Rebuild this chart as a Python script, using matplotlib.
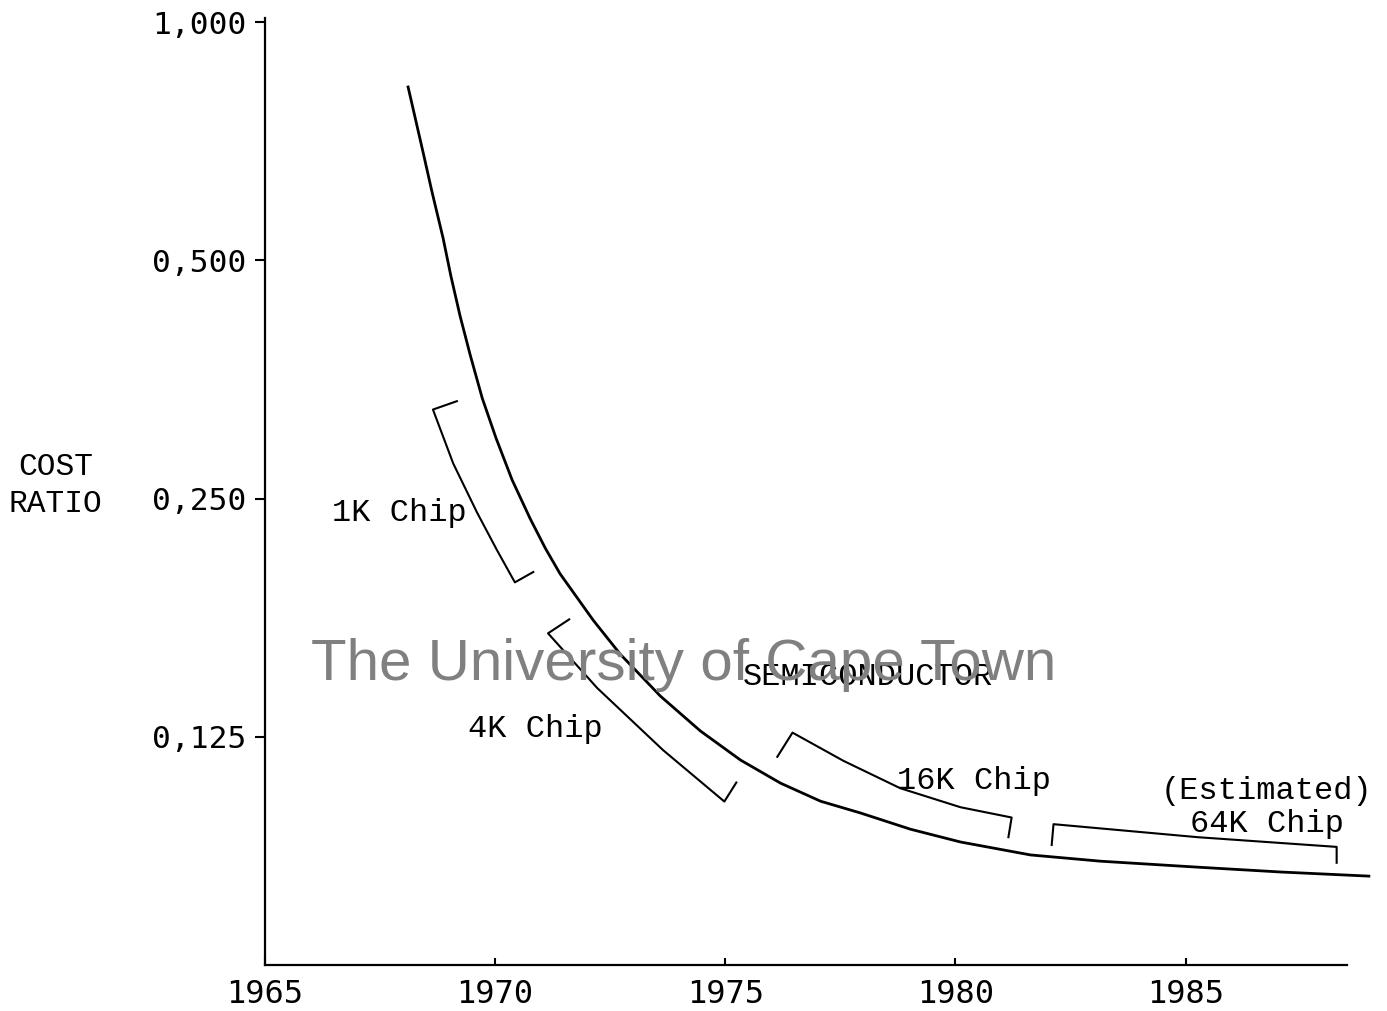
import matplotlib
matplotlib.use("Agg")
import matplotlib.pyplot as plt
from matplotlib.ticker import FixedLocator, FixedFormatter, NullLocator

# semiconductor cost ratio curve
years = [1968.11, 1968.44, 1968.63, 1968.87, 1969.04, 1969.24, 1969.46, 1969.72,
         1970.02, 1970.37, 1970.76, 1971.09, 1971.41, 1972.13, 1972.72, 1973.59,
         1974.46, 1975.33, 1976.20, 1977.07, 1977.94, 1979.02, 1980.11, 1981.63,
         1983.15, 1985.26, 1987.07, 1988.98]
cost = [0.828, 0.683, 0.610, 0.5335, 0.4777, 0.4252, 0.3796, 0.335,
        0.2982, 0.264, 0.236, 0.2165, 0.201, 0.1756, 0.159, 0.1408,
        0.1272, 0.1169, 0.1093, 0.1037, 0.1002, 0.0956, 0.0921, 0.0887,
        0.0871, 0.0856, 0.0844, 0.0834]

y_ticks = [1.0, 0.5, 0.25, 0.125]
y_labels = ["1,000", "0,500", "0,250", "0,125"]
x_ticks = [1965, 1970, 1975, 1980, 1985]

# chip generation brackets
bracket_1k_x = [1969.17, 1968.65, 1969.09, 1969.61, 1970.04, 1970.43, 1970.83]
bracket_1k_y = [0.332, 0.324, 0.277, 0.240, 0.2153, 0.196, 0.202]
bracket_4k_x = [1971.61, 1971.15, 1972.22, 1973.65, 1974.98, 1975.24]
bracket_4k_y = [0.176, 0.169, 0.1441, 0.1203, 0.1036, 0.1095]
bracket_16k_x = [1976.13, 1976.46, 1977.57, 1978.80, 1980.11, 1981.22, 1981.15]
bracket_16k_y = [0.118, 0.1266, 0.1166, 0.1077, 0.1019, 0.0989, 0.0934]
bracket_64k_x = [1982.09, 1982.13, 1985.26, 1988.28, 1988.28]
bracket_64k_y = [0.0913, 0.0970, 0.0934, 0.0908, 0.0867]

labels = ["1K Chip", "4K Chip", "SEMICONDUCTOR", "16K Chip", "(Estimated)", "64K Chip"]
label_x = [1967.91, 1970.87, 1978.09, 1980.41, 1986.76, 1986.76]
label_y = [0.240, 0.128, 0.149, 0.110, 0.1069, 0.0970]

mono = "Liberation Mono"

fig = plt.figure(figsize=(13.87, 10.11), dpi=100)
ax = fig.add_axes([0.191, 0.0455, 0.780, 0.9367])

ax.set_yscale("log", base=2)
ax.set_xlim(1965, 1988.5)
ax.set_ylim(0.0644, 1.012)

ax.plot(years, cost, color="black", lw=2.0, clip_on=False, zorder=3,
        solid_joinstyle="round")

for bx, by in [(bracket_1k_x, bracket_1k_y), (bracket_4k_x, bracket_4k_y),
               (bracket_16k_x, bracket_16k_y), (bracket_64k_x, bracket_64k_y)]:
    ax.plot(bx, by, color="black", lw=1.5, zorder=3)

for t, lx, ly in zip(labels, label_x, label_y):
    ax.text(lx, ly, t, fontsize=23, family=mono, ha="center", va="center", zorder=4)

ax.spines["top"].set_visible(False)
ax.spines["right"].set_visible(False)
ax.spines["left"].set_linewidth(1.6)
ax.spines["bottom"].set_linewidth(1.6)

ax.yaxis.set_major_locator(FixedLocator(y_ticks))
ax.yaxis.set_major_formatter(FixedFormatter(y_labels))
ax.yaxis.set_minor_locator(NullLocator())
ax.set_xticks(x_ticks)
ax.tick_params(axis="y", direction="out", length=7, width=1.5, pad=6, labelsize=22.5)
ax.tick_params(axis="x", direction="in", length=5, width=1.5, pad=10, labelsize=23)
for lab in ax.get_xticklabels() + ax.get_yticklabels():
    lab.set_family("DejaVu Sans Mono")

fig.text(0.040, 0.520, "COST\nRATIO", fontsize=22.5, family=mono, ha="center",
         va="center", linespacing=1.3)

# scan watermark
fig.text(0.493, 0.327, "The University of Cape Town", fontsize=42,
         family="Liberation Sans", color="#808080", ha="center", va="baseline", zorder=0)

fig.savefig("out.png", dpi=100)
